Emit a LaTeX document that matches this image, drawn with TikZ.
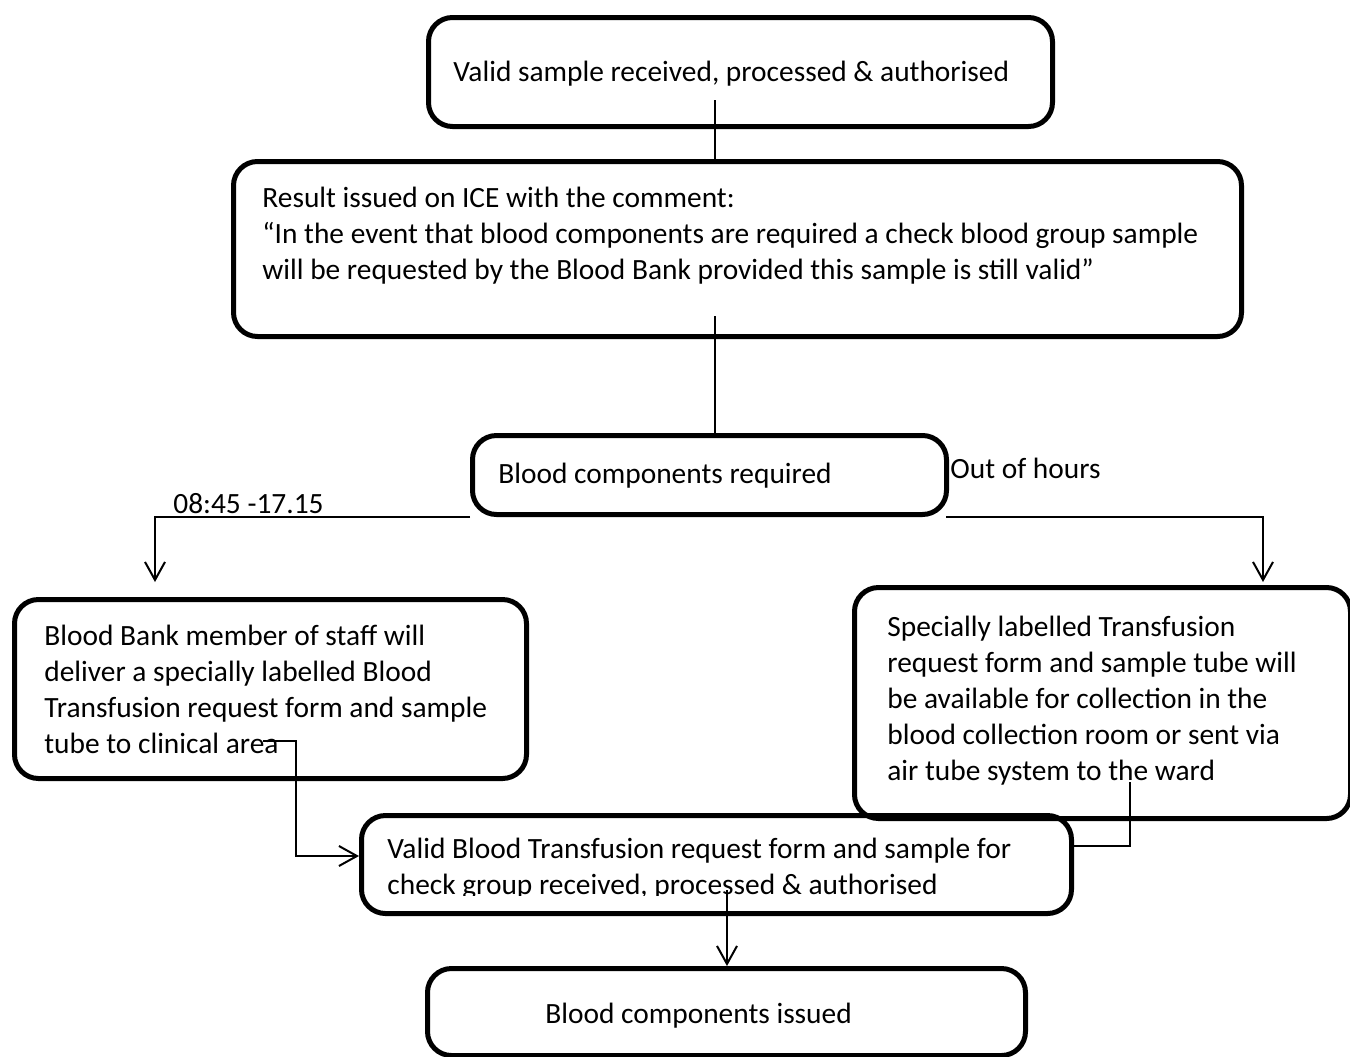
\documentclass[tikz,border=0pt]{standalone}
\usepackage{fontspec}
\setmainfont{Carlito}
\usetikzlibrary{arrows.meta}
\newcommand\flowfont{\fontsize{14.7pt}{18pt}\selectfont}

\begin{document}
\begin{tikzpicture}[x=0.5pt,y=-0.5pt,
    box/.style={draw,line width=2.5pt,rounded corners=12pt,anchor=north west,inner sep=0pt},
    txt/.style={anchor=north west,align=left,inner sep=0pt,font=\flowfont,execute at begin node=\strut},
    lab/.style={anchor=base west,inner sep=0pt,font=\flowfont},
    conn/.style={line width=1pt},
    arr/.style={conn,-{Straight Barb[length=9pt,width=10pt]}}]
\useasboundingbox (0,0) rectangle (1350,1056);

% boxes
\node[box,minimum width=312pt,minimum height=54.5pt] (sample) at (426,15) {};
\node[box,minimum width=504pt,minimum height=87.5pt] (result) at (231,159) {};
\node[box,minimum width=237pt,minimum height=39.5pt] (need) at (470,433) {};
\node[box,minimum width=256pt,minimum height=89.5pt] (day) at (12,597) {};
\node[box,minimum width=248pt,minimum height=115.5pt] (night) at (852,585) {};
\node[box,minimum width=355pt,minimum height=49pt] (check) at (359,813) {};
\node[box,minimum width=299pt,minimum height=43.5pt] (issued) at (425,966) {};

% texts
\node[txt] (sampletxt) at (453,56) {Valid sample received, processed \& authorised};
\node[txt] (resulttxt) at (262,187) {Result issued on ICE with the comment:\\
  “In the event that blood components are required a check blood group sample\\
  will be requested by the Blood Bank provided this sample is still valid”};
\node[txt] (needtxt) at (498,458) {Blood components required};
\node[txt] (daytxt) at (44,625) {Blood Bank member of staff will\\
  deliver a specially labelled Blood\\
  Transfusion request form and sample\\
  tube to clinical area};
\node[txt] (nighttxt) at (887,616) {Specially labelled Transfusion\\
  request form and sample tube will\\
  be available for collection in the\\
  blood collection room or sent via\\
  air tube system to the ward};
\begin{scope}
  \clip (359,813) rectangle (1069,895);
  \node[txt] (checktxt) at (387,838) {Valid Blood Transfusion request form and sample for\\
    check group received, processed \& authorised};
\end{scope}
\node[txt] (issuedtxt) at (545,998) {Blood components issued};

\node[lab] (daylab) at (173,513) {08:45 -17.15};
\node[lab] (nightlab) at (950,478) {Out of hours};

% connectors
\coordinate (samplestem) at (715,100);
\coordinate (resultstem) at (715,316);
\coordinate (dayfork) at (470,517);
\coordinate (dayend) at (155,582);
\coordinate (nightfork) at (946,517);
\coordinate (nightend) at (1263,582);
\coordinate (areaend) at (263,741);
\coordinate (daybend) at (296,856);
\coordinate (wardend) at (1130,782);
\coordinate (nightbend) at (1130,846);
\coordinate (checkstem) at (727,890);

\draw[conn] (samplestem) -- (samplestem |- result.north);
\draw[conn] (resultstem) -- (resultstem |- need.north);
\draw[arr] (dayfork) -| (dayend);
\draw[arr] (nightfork) -| (nightend);
\draw[arr] (areaend) -| (daybend) -- (daybend -| check.west);
\draw[conn] (wardend) -- (nightbend) -- (nightbend -| check.east);
\draw[arr] (checkstem) -- (checkstem |- issued.north);
\end{tikzpicture}
\end{document}
